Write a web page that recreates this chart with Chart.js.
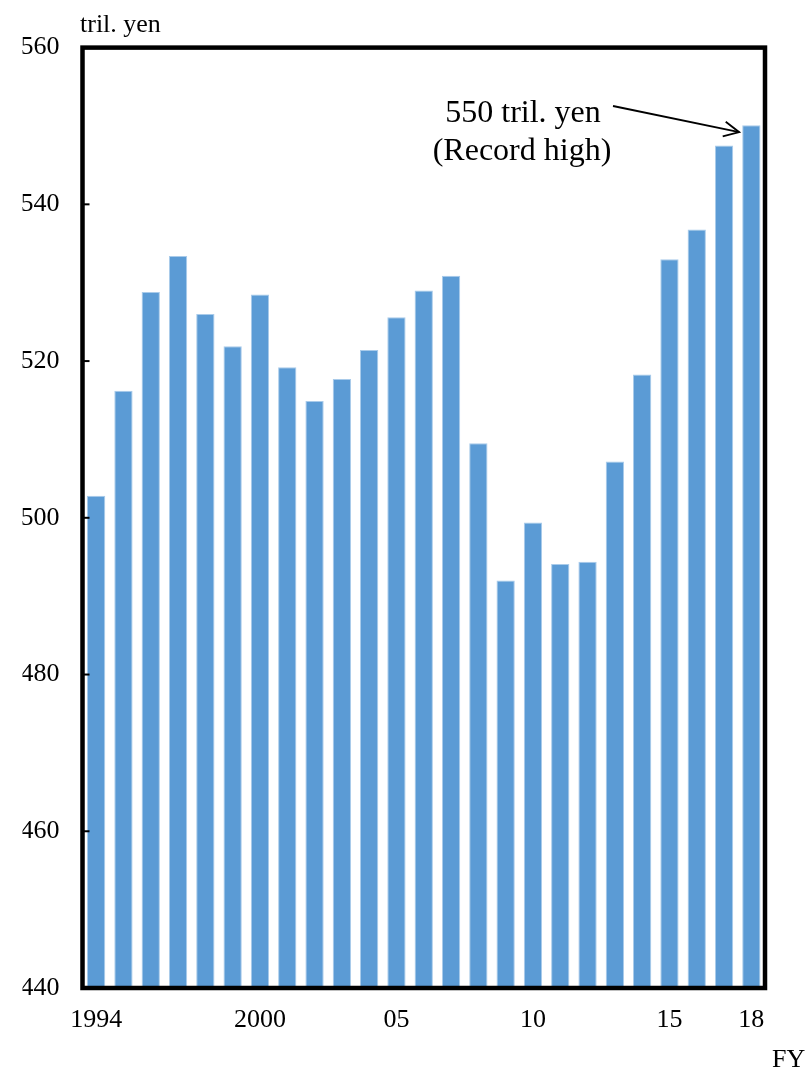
<!DOCTYPE html>
<html>
<head>
<meta charset="utf-8">
<script src="https://cdn.jsdelivr.net/npm/chart.js@4/dist/chart.umd.min.js"></script>
<style>
  html, body { margin: 0; padding: 0; background: #fff; }
  #wrap { width: 807px; height: 1069px; }
</style>
</head>
<body>
<div id="wrap"><canvas id="c" width="807" height="1069"></canvas></div>
<script>
// Fiscal years (categories)
const years = [1994, 1995, 1996, 1997, 1998, 1999, 2000, 2001, 2002, 2003, 2004, 2005,
               2006, 2007, 2008, 2009, 2010, 2011, 2012, 2013, 2014, 2015, 2016, 2017, 2018];

// Nominal GDP, trillion yen
const gdp = [502.8, 516.2, 528.8, 533.4, 526.0, 521.9, 528.5, 519.2, 514.9, 517.7, 521.4, 525.6,
             529.0, 530.9, 509.5, 492.0, 499.4, 494.1, 494.4, 507.2, 518.3, 533.0, 536.8, 547.5, 550.1];

// Year labels printed under the axis
const yearLabels = { 1994: '1994', 2000: '2000', 2005: '05', 2010: '10', 2015: '15', 2018: '18' };

// Value axis range
const yMin = 440, yMax = 560, yStep = 20;

// Highlighted value and its note
const recordIndex = 24;
const recordText = ['550 tril. yen', '(Record high)'];

const serif = '"Liberation Serif", "Times New Roman", serif';

const framePlugin = {
  id: 'frame',
  afterDraw(chart) {
    const { ctx, chartArea: a, scales } = chart;
    const y = scales.y;
    ctx.save();

    // inward tick marks on the value axis
    ctx.strokeStyle = '#000';
    ctx.lineWidth = 2;
    y.ticks.forEach(t => {
      const py = y.getPixelForValue(t.value);
      ctx.beginPath();
      ctx.moveTo(a.left, py);
      ctx.lineTo(a.left + 7, py);
      ctx.stroke();
    });

    // heavy frame round the plot area
    ctx.lineWidth = 4.5;
    ctx.strokeRect(a.left, a.top, a.right - a.left, a.bottom - a.top);

    // unit and axis captions
    ctx.fillStyle = '#000';
    ctx.font = '26px ' + serif;
    ctx.textAlign = 'left';
    ctx.textBaseline = 'alphabetic';
    ctx.fillText('tril. yen', 80, 32);
    ctx.fillText('FY', 772, 1067);

    // note on the record value with an arrow
    const bar = chart.getDatasetMeta(0).data[recordIndex];
    const tipX = bar.x - bar.width / 2 - 3;
    const tipY = y.getPixelForValue(gdp[recordIndex]) + 7;
    ctx.font = '32px ' + serif;
    ctx.textAlign = 'center';
    ctx.fillText(recordText[0], 523, 122);
    ctx.fillText(recordText[1], 522, 160);

    const sx = 613, sy = 106;
    ctx.lineWidth = 1.8;
    ctx.beginPath();
    ctx.moveTo(sx, sy);
    ctx.lineTo(tipX, tipY);
    ctx.stroke();
    const ang = Math.atan2(tipY - sy, tipX - sx);
    const hl = 17, hw = 0.45;
    ctx.beginPath();
    ctx.moveTo(tipX - hl * Math.cos(ang - hw), tipY - hl * Math.sin(ang - hw));
    ctx.lineTo(tipX, tipY);
    ctx.lineTo(tipX - hl * Math.cos(ang + hw), tipY - hl * Math.sin(ang + hw));
    ctx.stroke();

    ctx.restore();
  }
};

new Chart(document.getElementById('c'), {
  type: 'bar',
  data: {
    labels: years,
    datasets: [{
      data: gdp,
      backgroundColor: '#5B9BD5',
      borderColor: '#A9CBEA',
      borderWidth: 1,
      categoryPercentage: 1,
      barPercentage: 0.67
    }]
  },
  options: {
    responsive: false,
    animation: false,
    devicePixelRatio: 1,
    layout: { padding: { left: 22.5, right: 42, top: 47.6, bottom: 41 } },
    plugins: { legend: { display: false }, tooltip: { enabled: false } },
    scales: {
      x: {
        grid: { display: false, drawTicks: false },
        border: { display: false },
        ticks: {
          autoSkip: false,
          maxRotation: 0,
          padding: 17,
          color: '#000',
          font: { family: serif, size: 26 },
          callback: (v, i) => yearLabels[years[i]] || ''
        },
        afterFit: s => { s.height = 40; }
      },
      y: {
        min: yMin,
        max: yMax,
        grid: { display: false, drawTicks: false },
        border: { display: false },
        ticks: {
          stepSize: yStep,
          padding: 23,
          color: '#000',
          font: { family: serif, size: 26 }
        },
        afterFit: s => { s.width = 60; }
      }
    }
  },
  plugins: [framePlugin]
});
</script>
</body>
</html>
